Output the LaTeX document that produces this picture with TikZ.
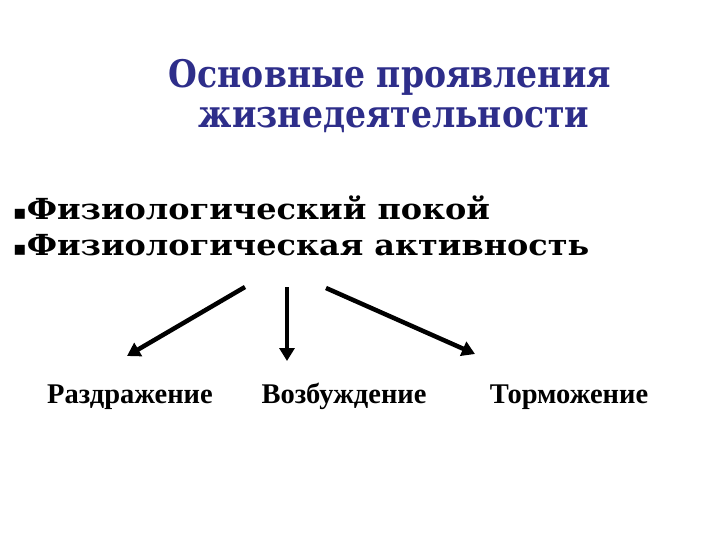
\documentclass[tikz,border=0pt]{standalone}
\usepackage{fontspec}
\usetikzlibrary{arrows.meta}
\setmainfont{Liberation Serif}
\newfontfamily\titelfont[FakeStretch=0.87]{DejaVu Serif}
\newfontfamily\punktfont[FakeStretch=1.1]{DejaVu Serif}
\newfontfamily\zeichenfont{DejaVu Sans}
\definecolor{titelblau}{RGB}{46,46,138}
\begin{document}
\begin{tikzpicture}[x=1pt,y=-1pt]
\tikzstyle{titel} = [anchor=base,inner sep=0pt,text=titelblau,font=\titelfont\bfseries\fontsize{38}{38}\selectfont]
\tikzstyle{punkt} = [anchor=base west,inner sep=0pt,font=\punktfont\bfseries\fontsize{29}{29}\selectfont]
\tikzstyle{folge} = [anchor=base,inner sep=0pt,font=\bfseries\fontsize{28.5}{28.5}\selectfont]
\tikzstyle{pfeil} = [line width=4.5pt,-{Triangle[length=13pt,width=15pt]}]
\useasboundingbox (0,0) rectangle (720,540);
	\node[titel] (titel1) at (390,88) {Основные проявления};
	\node[titel] (titel2) at (394,128) {жизнедеятельности};
	\node[punkt] (ruhe) at (13,220) {{\zeichenfont\fontsize{20}{20}\selectfont▪}Физиологический покой};
	\node[punkt] (aktiv) at (13,255) {{\zeichenfont\fontsize{20}{20}\selectfont▪}Физиологическая активность};
	\node[folge] (reiz) at (130,403) {Раздражение};
	\node[folge] (erreg) at (344,403) {Возбуждение};
	\node[folge] (hemm) at (569,403) {Торможение};
	\coordinate (a1) at (245,287);
	\coordinate (a2) at (287,287);
	\coordinate (a3) at (326,288);
	\coordinate (e1) at (127,356);
	\coordinate (e2) at (287,361);
	\coordinate (e3) at (475,354);
	\draw[pfeil] (a1) -- (e1);
	\draw[pfeil] (a2) -- (e2);
	\draw[pfeil] (a3) -- (e3);
\end{tikzpicture}
\end{document}
